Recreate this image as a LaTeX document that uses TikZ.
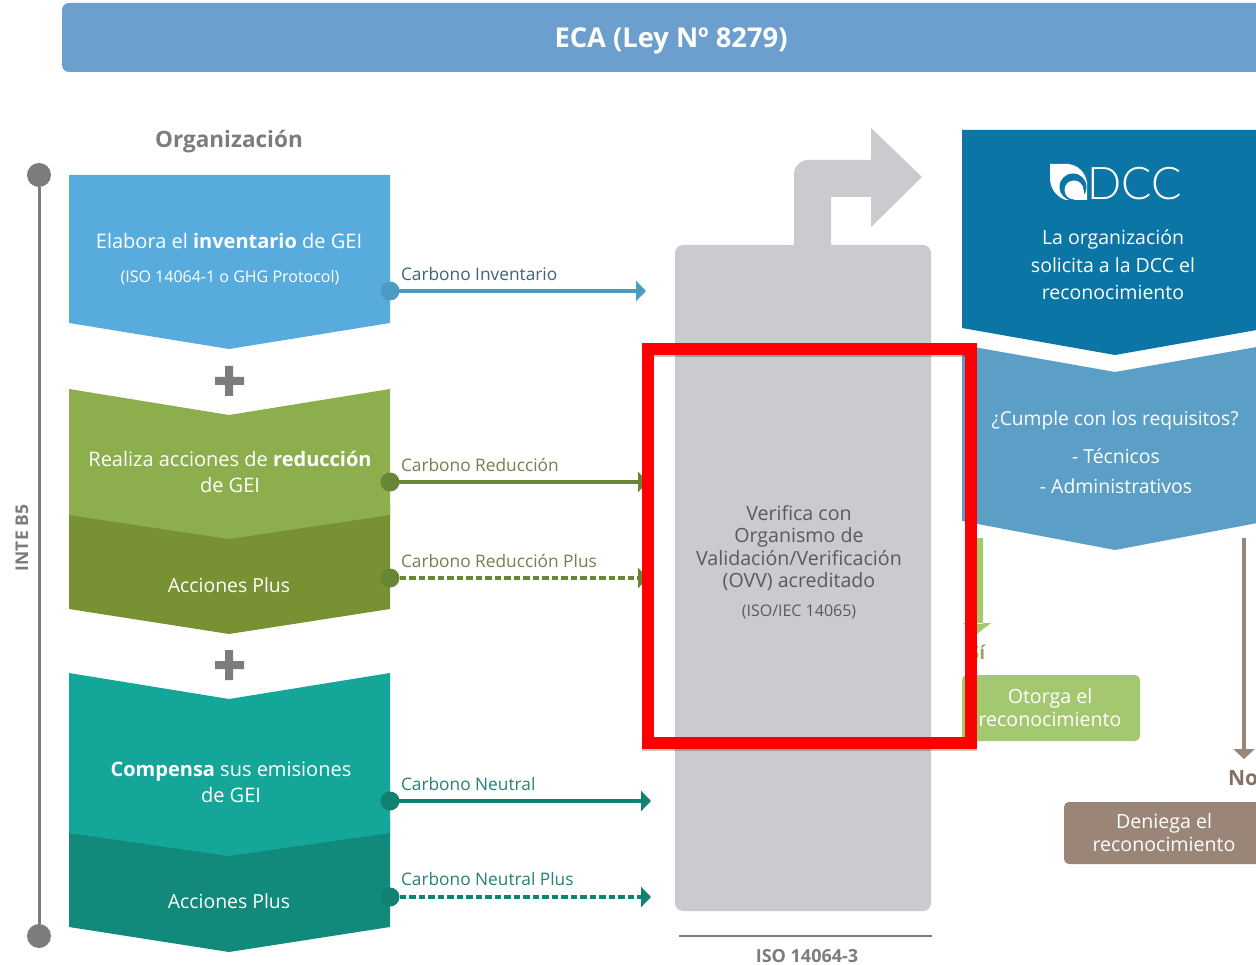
\documentclass[tikz,border=0pt]{standalone}
\usepackage{fontspec}
\setmainfont{Open Sans}
\newfontfamily\thinfont{Lato Light}
\usetikzlibrary{arrows.meta}
\definecolor{banner}{HTML}{6C9FCE}
\definecolor{tgray}{HTML}{7C7C7C}
\definecolor{inv}{HTML}{58ACDD}
\definecolor{invd}{HTML}{4C9BC4}
\definecolor{red1}{HTML}{8DAE4C}
\definecolor{red2}{HTML}{789133}
\definecolor{redl}{HTML}{688635}
\definecolor{neu1}{HTML}{14A699}
\definecolor{neu2}{HTML}{11897B}
\definecolor{neul}{HTML}{0F8272}
\definecolor{pan}{HTML}{C9CBCE}
\definecolor{dccd}{HTML}{0B76A5}
\definecolor{dccl}{HTML}{5B9FC6}
\definecolor{okg}{HTML}{A4C86F}
\definecolor{brn}{HTML}{9A8577}
\definecolor{vtxt}{HTML}{5A5A5A}
\tikzset{
  x=1pt,y=-1pt,
  every node/.style={inner sep=0pt,outer sep=0pt,align=center},
  wtxt/.style={text=white,font=\fontsize{20}{26}\selectfont},
  ptxt/.style={text=white,font=\fontsize{19.4}{24}\selectfont},
  ltxt/.style={text=#1,anchor=west,font=\fontsize{17.3}{20}\selectfont},
  dot/.style={circle,minimum size=19pt,fill=#1},
  link/.style={draw=#1,line width=4pt,-{Triangle[length=10pt,width=20pt]}},
  dlink/.style={link=#1,dash pattern=on 6.5pt off 3pt},
  plusbar/.style={fill=tgray,draw=none},
}
\begin{document}
\begin{tikzpicture}
\useasboundingbox (0,0) rectangle (1256,965);
\clip (0,0) rectangle (1256,965);
\fill[white] (0,0) rectangle (1256,965);
% banner
\node[fill=banner,rounded corners=7pt,minimum width=1240pt,minimum height=69pt,anchor=north west] (banner) at (62,3) {};
\node[text=white,font=\bfseries\fontsize{27.3}{30}\selectfont] (bannert) at (671,41) {ECA (Ley Nº 8279)};
\node[text=tgray,font=\bfseries\fontsize{22.5}{26}\selectfont] (org) at (229,142) {Organización};
% timeline
\node[circle,fill=tgray,minimum size=24pt] (t1) at (39,175) {};
\node[circle,fill=tgray,minimum size=24pt] (t2) at (39,936) {};
\draw[tgray,line width=3pt] (t1) -- (t2);
\node[text=tgray,rotate=90,font=\bfseries\fontsize{17.5}{20}\selectfont] (inte) at (22,538) {INTE B5};
% inventory
\fill[inv] (69,175) -- (390,175) -- (390,323) -- (229,349) -- (69,323) -- cycle;
\node[wtxt] (a1) at (229,241) {Elabora el \textbf{inventario} de GEI};
\node[text=white,font=\fontsize{16}{18}\selectfont] (a2) at (230,278) {(ISO 14064-1 o GHG Protocol)};
% plus
\fill[plusbar] (225,366) rectangle (233,396) (215,377) rectangle (244,385);
% reduction
\fill[red2] (69,505) -- (390,505) -- (390,609) -- (229,634) -- (69,609) -- cycle;
\fill[red1] (69,389) -- (229,415) -- (390,389) -- (390,515) -- (229,539) -- (69,515) -- cycle;
\node[wtxt] (b1) at (230,472) {Realiza acciones de \textbf{reducción}\\de GEI};
\node[ptxt] (b2) at (229,585) {Acciones Plus};
\fill[plusbar] (225,650) rectangle (233,680) (215,661) rectangle (244,669);
% neutral
\fill[neu2] (69,820) -- (390,820) -- (390,927) -- (229,952) -- (69,927) -- cycle;
\fill[neu1] (69,673) -- (229,699) -- (390,673) -- (390,833) -- (229,856) -- (69,833) -- cycle;
\node[wtxt] (c1) at (231,782) {\textbf{Compensa} sus emisiones\\de GEI};
\node[ptxt] (c2) at (229,901) {Acciones Plus};
% panel and its arrow
\fill[pan,rounded corners=8pt] (675,245) rectangle (931,911);
\fill[pan] (794,250) [rounded corners=14pt] -- (794,160) [sharp corners] -- (871,160) -- (871,128) -- (922,177) -- (871,227) -- (871,197) -- (831,197) -- (831,250) -- cycle;
\node[text=vtxt,font=\fontsize{19.6}{22.6}\selectfont] (v1) at (799,548) {Verifica con\\Organismo de\\Validación/Verificación\\(OVV) acreditado};
\node[text=vtxt,font=\fontsize{16}{18}\selectfont] (v2) at (799,612) {(ISO/IEC 14065)};
\coordinate (pl1) at (646,291);
\coordinate (pl2) at (648,482);
\coordinate (pl3) at (648,578);
\coordinate (pl4) at (651,801);
\coordinate (pl5) at (651,897);
% links
\node[dot=invd] (d1) at (390,291) {};
\node[dot=redl] (d2) at (390,482) {};
\node[dot=redl] (d3) at (390,578) {};
\node[dot=neul] (d4) at (390,801) {};
\node[dot=neul] (d5) at (390,897) {};
\draw[link=invd] (d1.center) -- (pl1);
\draw[link=redl] (d2.center) -- (pl2);
\draw[dlink=redl] (d3.center) -- (pl3);
\draw[link=neul] (d4.center) -- (pl4);
\draw[dlink=neul] (d5.center) -- (pl5);
\node[ltxt=invd!60!black!80!gray] (l1) at (401,274) {Carbono Inventario};
\node[ltxt=redl!70!gray] (l2) at (401,465) {Carbono Reducción};
\node[ltxt=redl!70!gray] (l3) at (401,561) {Carbono Reducción Plus};
\node[ltxt=neul!80!gray] (l4) at (401,784) {Carbono Neutral};
\node[ltxt=neul!80!gray] (l5) at (401,879) {Carbono Neutral Plus};
% DCC
\fill[dccl] (962,345) -- (1115,372) -- (1268,345) -- (1268,521) -- (1115,550) -- (962,521) -- cycle;
\fill[dccd] (962,130) -- (1268,130) -- (1268,328) -- (1115,355) -- (962,328) -- cycle;
% logo
\fill[white] (1050,164) -- (1068,164) .. controls (1078,165) and (1085,172) .. (1087,182) -- (1087,200) -- (1066,200) .. controls (1056,197) and (1050,188) .. (1050,178) -- cycle;
\fill[dccd] (1073,187) circle[radius=13.5];
\fill[white] (1074,190) circle[radius=9.5];
\fill[white] (1074,190) rectangle (1084,200);
\node[text=white,anchor=west,font=\thinfont\fontsize{45}{45}\selectfont] (dcc) at (1087,184) {DCC};
\node[text=white,font=\fontsize{19.5}{27.5}\selectfont] (s1) at (1113,265) {La organización\\solicita a la DCC el\\reconocimiento};
\node[text=white,font=\fontsize{19.2}{22}\selectfont] (s2) at (1115,421) {¿Cumple con los requisitos?};
\node[text=white,font=\fontsize{19.4}{30}\selectfont] (s3) at (1116,471) {- Técnicos\\- Administrativos};
% outcomes
\fill[okg] (971,538) rectangle (983,624) (963,623) -- (991,623) -- (977,634) -- cycle;
\node[text=okg!85!black,font=\bfseries\fontsize{19}{22}\selectfont] (si) at (977,652) {Sí};
\node[fill=okg,rounded corners=5pt,minimum width=178pt,minimum height=66pt,anchor=north west] (ok) at (962,675) {};
\node[text=white,font=\fontsize{19.6}{23}\selectfont] (okt) at (1050,708) {Otorga el\\reconocimiento};
\coordinate (no0) at (1244,538);
\coordinate (no1) at (1244,759);
\draw[brn,line width=3.5pt,-{Triangle[length=10pt,width=21pt]}] (no0) -- (no1);
\node[text=brn!85!black,anchor=west,font=\bfseries\fontsize{21}{24}\selectfont] (no) at (1228,778) {No};
\node[fill=brn,rounded corners=5pt,minimum width=210pt,minimum height=62pt,anchor=north west] (de) at (1064,802) {};
\node[text=white,font=\fontsize{19.6}{23}\selectfont] (det) at (1164,833) {Deniega el\\reconocimiento};
% iso
\coordinate (i1) at (679,936);
\coordinate (i2) at (932,936);
\draw[tgray,line width=2.5pt] (i1) -- (i2);
\node[text=tgray,font=\bfseries\fontsize{18}{20}\selectfont] (iso) at (807,956) {ISO 14064-3};
% red frame
\draw[black,opacity=.22,line width=12pt] (648,351) rectangle (971,745);
\draw[red,line width=12pt] (648,349) rectangle (971,743);
\end{tikzpicture}
\end{document}
